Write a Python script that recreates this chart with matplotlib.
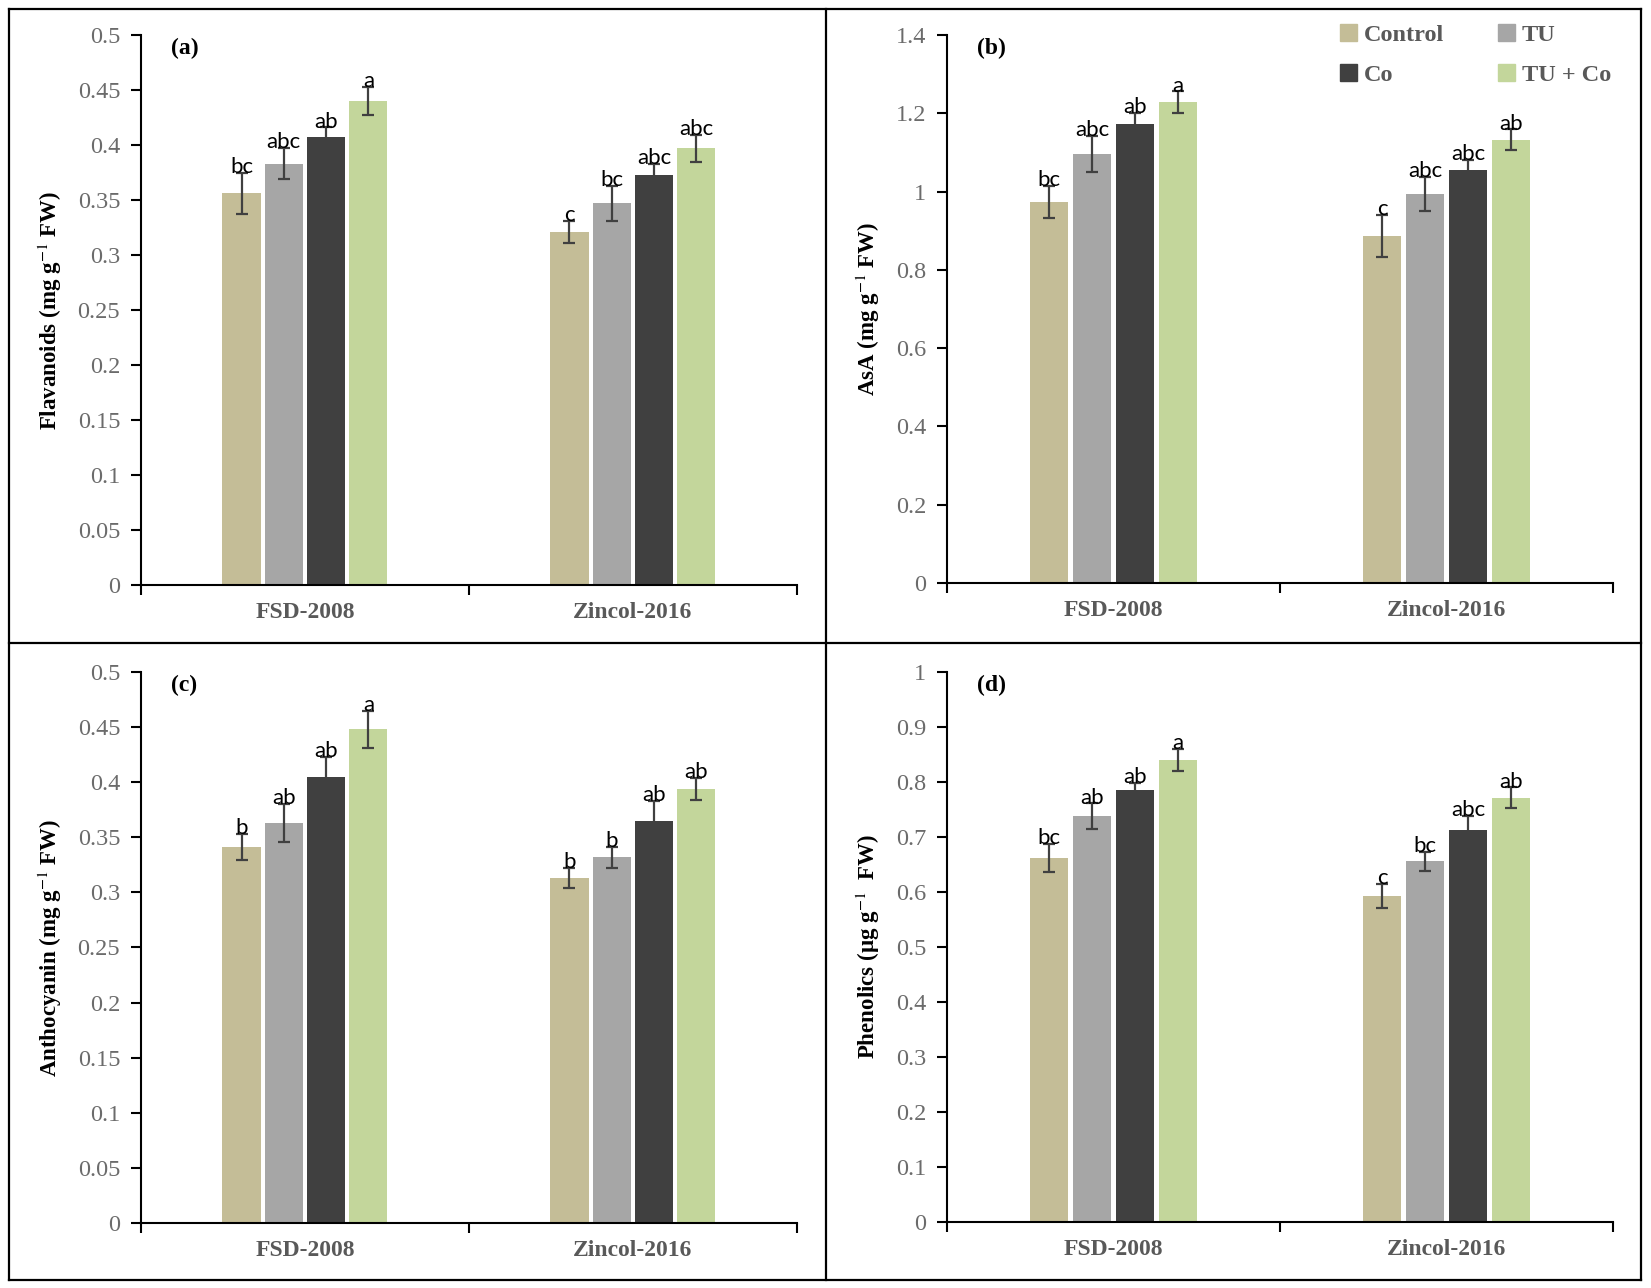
import numpy as np
import matplotlib
matplotlib.use("Agg")
import matplotlib.pyplot as plt
from matplotlib.lines import Line2D
from matplotlib.patches import Patch

plt.rcParams['font.family'] = ['Liberation Serif', 'DejaVu Serif']
plt.rcParams['mathtext.fontset'] = 'stix'

# data
cultivars = ["FSD-2008", "Zincol-2016"]
treatments = ["Control", "TU", "Co", "TU + Co"]
colors = ["#C4BD97", "#A6A6A6", "#404040", "#C3D69B"]

flav = [[0.356, 0.383, 0.407, 0.440], [0.321, 0.347, 0.373, 0.397]]
flav_err = [[0.019, 0.014, 0.009, 0.013], [0.010, 0.016, 0.010, 0.012]]
flav_let = [["bc", "abc", "ab", "a"], ["c", "bc", "abc", "abc"]]

asa = [[0.973, 1.096, 1.173, 1.229], [0.887, 0.994, 1.055, 1.132]]
asa_err = [[0.041, 0.046, 0.027, 0.027], [0.054, 0.043, 0.025, 0.027]]
asa_let = [["bc", "abc", "ab", "a"], ["c", "abc", "abc", "ab"]]

antho = [[0.341, 0.363, 0.405, 0.448], [0.313, 0.332, 0.365, 0.394]]
antho_err = [[0.012, 0.017, 0.018, 0.017], [0.009, 0.0095, 0.018, 0.010]]
antho_let = [["b", "ab", "ab", "a"], ["b", "b", "ab", "ab"]]

phen = [[0.662, 0.738, 0.785, 0.840], [0.593, 0.656, 0.713, 0.771]]
phen_err = [[0.026, 0.023, 0.014, 0.020], [0.022, 0.017, 0.025, 0.019]]
phen_let = [["bc", "ab", "ab", "a"], ["c", "bc", "abc", "ab"]]

panels = [
    dict(vals=flav, err=flav_err, let=flav_let, ymax=0.5, step=0.05,
         ylabel="Flavanoids (mg g$^{-1}$ FW)", tag="(a)",
         pos=[0.0854, 0.5458, 0.3973, 0.4270]),
    dict(vals=asa, err=asa_err, let=asa_let, ymax=1.4, step=0.2,
         ylabel="AsA (mg g$^{-1}$ FW)", tag="(b)",
         pos=[0.5736, 0.5474, 0.4034, 0.4254]),
    dict(vals=antho, err=antho_err, let=antho_let, ymax=0.5, step=0.05,
         ylabel="Anthocyanin (mg g$^{-1}$ FW)", tag="(c)",
         pos=[0.0854, 0.0505, 0.3973, 0.4278]),
    dict(vals=phen, err=phen_err, let=phen_let, ymax=1.0, step=0.1,
         ylabel="Phenolics (µg g$^{-1}$  FW)", tag="(d)",
         pos=[0.5736, 0.0512, 0.4034, 0.4271]),
]

fig = plt.figure(figsize=(16.51, 12.88), dpi=100)

width = 0.116
offsets = np.array([-1.5, -0.5, 0.5, 1.5]) * 0.129
centers = np.array([0.5, 1.5])

for p in panels:
    ax = fig.add_axes(p["pos"])
    vals = np.array(p["vals"])
    err = np.array(p["err"])
    for j in range(4):
        x = centers + offsets[j]
        ax.bar(x, vals[:, j], width, color=colors[j], zorder=2)
        ax.errorbar(x, vals[:, j], yerr=err[:, j], fmt="none", ecolor="#404040",
                    elinewidth=1.6, capsize=4.5, capthick=1.6, zorder=3)
        for i in range(2):
            ax.annotate(p["let"][i][j], (x[i], vals[i, j] + err[i, j]),
                        xytext=(0, -3), textcoords="offset points",
                        ha="center", va="bottom", fontsize=16,
                        family=["Lato", "DejaVu Sans"], color="black")
    ax.set_xlim(0, 2)
    ax.set_ylim(0, p["ymax"])
    yt = np.arange(0, p["ymax"] + 1e-9, p["step"]).round(2)
    ax.set_yticks(yt)
    ax.set_yticklabels([f"{v:g}" for v in yt])
    ax.set_xticks([0, 1, 2])
    ax.set_xticklabels([])
    ax.set_xticks(centers, minor=True)
    ax.set_xticklabels(cultivars, minor=True, fontsize=17, fontweight="bold", color="#595959")
    ax.tick_params(axis="x", which="minor", length=0, pad=12)
    ax.tick_params(axis="x", which="major", direction="out", length=7, width=1.5)
    ax.tick_params(axis="y", direction="out", length=7, width=1.5, labelsize=17.5,
                   labelcolor="#6b6b6b", pad=8)
    for s in ["top", "right"]:
        ax.spines[s].set_visible(False)
    for s in ["left", "bottom"]:
        ax.spines[s].set_linewidth(1.5)
    ax.set_ylabel(p["ylabel"], fontsize=16.5, fontweight="bold", labelpad=10)
    ax.text(0.045, 0.995, p["tag"], transform=ax.transAxes, fontsize=17,
            fontweight="bold", va="top", ha="left")

    if p["tag"] == "(b)":
        handles = [Patch(color=c) for c in colors]
        order = [0, 2, 1, 3]
        leg = ax.legend([handles[k] for k in order], [treatments[k] for k in order],
                        ncol=2, loc="upper right", bbox_to_anchor=(1.03, 1.06),
                        frameon=False, handlelength=0.7, handleheight=0.7,
                        handletextpad=0.3, columnspacing=2.2, labelspacing=0.75,
                        prop=dict(family="Liberation Serif", weight="bold", size=17.5))
        for t in leg.get_texts():
            t.set_color("#595959")

# panel frames
W, H = 1651, 1288
lw = 1.6
def fx(px):
    return px / W
def fy(py):
    return 1 - py / H
frame = [((9, 9), (1641, 9)), ((9, 1280), (1641, 1280)), ((9, 9), (9, 1280)),
         ((1641, 9), (1641, 1280)), ((826, 9), (826, 1280)), ((9, 643), (1641, 643))]
for (x0, y0), (x1, y1) in frame:
    fig.add_artist(Line2D([fx(x0), fx(x1)], [fy(y0), fy(y1)], color="black", lw=lw))

fig.savefig("out.png", dpi=100)
